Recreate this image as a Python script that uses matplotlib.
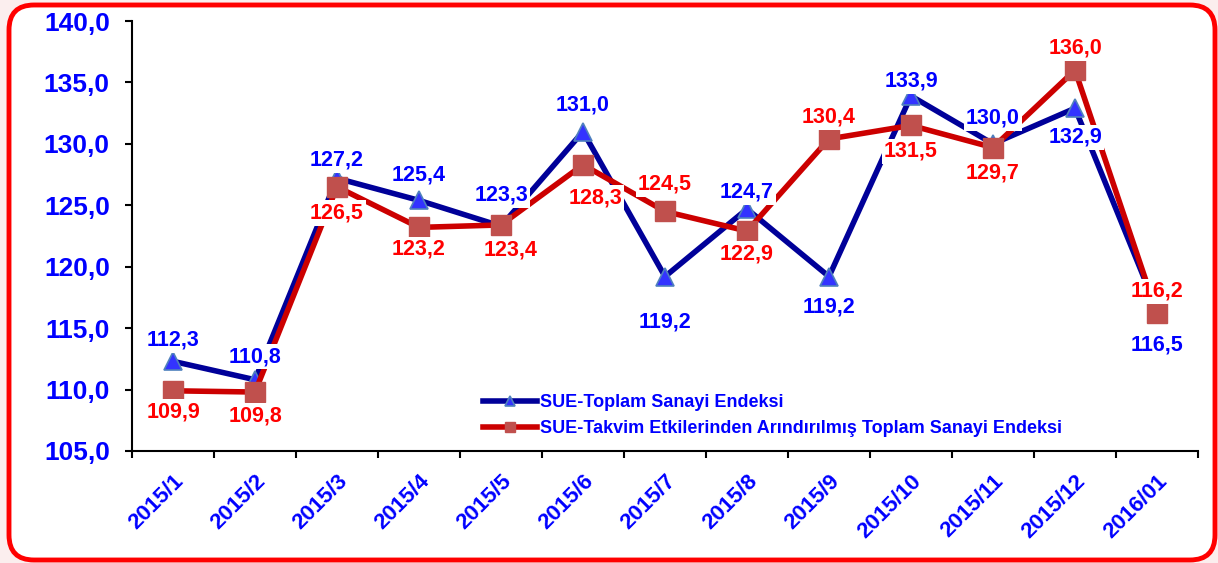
import numpy as np
import matplotlib
matplotlib.use('Agg')
import matplotlib.pyplot as plt
from matplotlib.patches import FancyBboxPatch

plt.rcParams['font.family'] = ['Liberation Sans', 'DejaVu Sans']
plt.rcParams['font.weight'] = 'bold'

# veri
aylar = ['2015/1', '2015/2', '2015/3', '2015/4', '2015/5', '2015/6', '2015/7',
         '2015/8', '2015/9', '2015/10', '2015/11', '2015/12', '2016/01']
toplam = [112.3, 110.8, 127.2, 125.4, 123.3, 131.0, 119.2, 124.7, 119.2, 133.9, 130.0, 132.9, 116.5]
takvim = [109.9, 109.8, 126.5, 123.2, 123.4, 128.3, 124.5, 122.9, 130.4, 131.5, 129.7, 136.0, 116.2]
etiket_toplam = 'SUE-Toplam Sanayi Endeksi'
etiket_takvim = 'SUE-Takvim Etkilerinden Arındırılmış Toplam Sanayi Endeksi'

# etiket kaydirmalari (piksel, + yukari)
kay_toplam = [21, 23, 18, 25, 31, 27, -45, 17, -30, 15, 26, -29, -35]
kay_takvim = [-21, -24, -26, -22, -25, -33, 27, -23, 22, -26, -25, 22, 22]
kay_x_takvim = [0, 0, 0, 0, 10, 12, 0, 0, 0, 0, 0, 0, 0]

fig = plt.figure(figsize=(12.18, 5.63), dpi=100)
fig.patch.set_facecolor('#fbeeee')

# kirmizi yuvarlak cerceve
cerceve = FancyBboxPatch((0.09 + 0.25, 0.03 + 0.25), 12.06 - 0.5, 5.55 - 0.5,
                         boxstyle='round,pad=0.25', transform=fig.dpi_scale_trans,
                         facecolor='white', edgecolor='#ff0000', linewidth=3.5, zorder=-10)
fig.patches.append(cerceve)

ax = fig.add_axes([132 / 1218, 1 - 451 / 563, 1066 / 1218, 430 / 563])
ax.set_facecolor('none')

x = np.arange(len(aylar))
ax.plot(x, toplam, color='#000099', lw=4, marker='^', ms=13.5,
        mfc='#3333ff', mec='#4f81bd', mew=1.2, zorder=3, label=etiket_toplam)
ax.plot(x, takvim, color='#cc0000', lw=4, marker='s', ms=14,
        mfc='#c0504d', mec='#c0504d', zorder=4, label=etiket_takvim)

for i in range(len(aylar)):
    ax.annotate(f'{toplam[i]:.1f}'.replace('.', ','), (x[i], toplam[i]),
                xytext=(0, kay_toplam[i] * 0.72), textcoords='offset points',
                ha='center', va='center', color='#0000ff', fontsize=15.5, fontweight='bold',
                bbox=dict(boxstyle='square,pad=0.1', fc='white', ec='none'), zorder=6)
    ax.annotate(f'{takvim[i]:.1f}'.replace('.', ','), (x[i], takvim[i]),
                xytext=(kay_x_takvim[i] * 0.72, kay_takvim[i] * 0.72), textcoords='offset points',
                ha='center', va='center', color='#ff0000', fontsize=15.5, fontweight='bold',
                bbox=dict(boxstyle='square,pad=0.1', fc='white', ec='none'), zorder=6)

ax.set_xlim(-0.5, len(aylar) - 0.5)
ax.set_ylim(105, 140)
ax.set_yticks(np.arange(105, 141, 5))
ax.set_yticklabels([f'{v:.1f}'.replace('.', ',') for v in np.arange(105, 141, 5)],
                   color='#0000ff', fontsize=19, fontweight='bold')
ax.tick_params(axis='y', direction='out', length=5, width=1.5, pad=11)

ax.set_xticks(x)
ax.set_xticklabels(aylar, rotation=45, ha='right', rotation_mode='anchor',
                   color='#0000ff', fontsize=16, fontweight='bold')
ax.tick_params(axis='x', which='major', length=0, pad=14)
ax.set_xticks(np.arange(-0.5, len(aylar), 1), minor=True)
ax.tick_params(axis='x', which='minor', direction='out', length=5, width=1.5)

for s in ['top', 'right']:
    ax.spines[s].set_visible(False)
for s in ['left', 'bottom']:
    ax.spines[s].set_linewidth(1.5)

leg = ax.legend(loc='upper left', bbox_to_anchor=(474 / 1218, 1 - 385 / 563),
                bbox_transform=fig.transFigure, frameon=False, fontsize=13,
                handlelength=3.0, handletextpad=0.15, markerscale=0.55,
                borderpad=0, labelspacing=0.5)
for t in leg.get_texts():
    t.set_color('#0000ff')
    t.set_fontweight('bold')

plt.savefig('out.png', dpi=100, facecolor=fig.get_facecolor())
